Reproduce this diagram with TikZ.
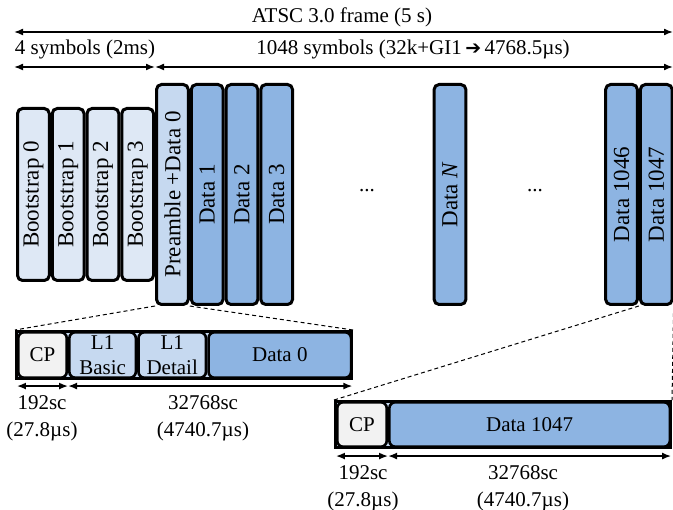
\documentclass[tikz,border=0pt]{standalone}
\usepackage{fontspec}
\setmainfont{Liberation Serif}
\usetikzlibrary{positioning, arrows.meta}
\usepackage{xcolor}
\definecolor{bootfill}{HTML}{DEE8F5}
\definecolor{prefill}{HTML}{C6D9F0}
\definecolor{datafill}{HTML}{8DB4E2}
\definecolor{cpfill}{HTML}{F2F2F2}

\begin{document}
\begin{tikzpicture}[
		x=1pt, y=-1pt,
		font=\fontsize{21}{27}\selectfont,
		symbox/.style={
			draw,
			line width=3pt,
			rounded corners=5pt,
			inner sep=0pt,
			minimum width=31.75pt,
			font=\fontsize{23}{26}\selectfont
		},
		bootbox/.style={symbox, fill=bootfill, minimum height=172pt},
		databox/.style={symbox, fill=datafill, minimum height=220pt},
		stripbox/.style={
			draw,
			line width=3pt,
			fill=prefill,
			inner sep=0pt
		},
		cell/.style={
			draw,
			line width=2.6pt,
			rounded corners=6pt,
			inner sep=0pt,
			align=center,
			font=\fontsize{21}{25}\selectfont
		},
		dimarrow/.style={
			line width=1.6pt,
			{Latex[length=9pt,width=7pt]}-{Latex[length=9pt,width=7pt]}
		},
		zoomline/.style={
			line width=1pt,
			dash pattern=on 4pt off 3pt
		},
		lbl/.style={align=center, inner sep=0pt}
		]
		\useasboundingbox (0,0) rectangle (673,510);
		
		% --- Bootstrap symbols ---
		\node[bootbox] (boot0) at (33.4,194.5) {\rotatebox{90}{Bootstrap 0}};
		\node[bootbox, right=0pt of boot0] (boot1) {\rotatebox{90}{Bootstrap 1}};
		\node[bootbox, right=0pt of boot1] (boot2) {\rotatebox{90}{Bootstrap 2}};
		\node[bootbox, right=0pt of boot2] (boot3) {\rotatebox{90}{Bootstrap 3}};
		
		% --- Preamble and data symbols ---
		\node[databox, fill=prefill, right=0pt of boot3] (pre) {\rotatebox{90}{Preamble +Data 0}};
		\node[databox, right=0pt of pre] (data1) {\rotatebox{90}{Data 1}};
		\node[databox, right=0pt of data1] (data2) {\rotatebox{90}{Data 2}};
		\node[databox, right=0pt of data2] (data3) {\rotatebox{90}{Data 3}};
		
		\node[inner sep=0pt] (gap1) at (367,191) {...};
		\node[databox] (dataN) at (450,194.5) {\rotatebox{90}{Data \textit{N}}};
		\node[inner sep=0pt] (gap2) at (535,191) {...};
		
		\node[databox] (data1046) at (621.5,194.5) {\rotatebox{90}{Data 1046}};
		\node[databox, right=0pt of data1046] (data1047) {\rotatebox{90}{Data 1047}};
		
		% --- Frame lengths ---
		\coordinate (frameL) at (14,32);
		\coordinate (frameR) at (673,32);
		\coordinate (bootL) at (14,67);
		\coordinate (bootR) at (155,67);
		\coordinate (dataR) at (673,67);
		\draw[dimarrow] (frameL) -- (frameR);
		\draw[dimarrow] (bootL) -- (bootR);
		\draw[dimarrow] (bootR) -- (dataR);
		\node[lbl] (framelbl) at (342,17) {ATSC 3.0 frame (5 s)};
		\node[lbl] (bootlbl) at (85,49) {4 symbols (2ms)};
		\node[lbl] (datalbl) at (413,49) {1048 symbols (32k+GI1\,{\fontspec{DejaVu Sans}\fontsize{19}{19}\selectfont ➔}\,4768.5µs)};
		
		% --- Preamble symbol, detail ---
		\node[stripbox, minimum width=335pt, minimum height=47pt] (sym0) at (184,355) {};
		\node[cell, fill=cpfill, minimum width=48.5pt, minimum height=45.5pt] (cp0) at (42.5,355) {CP};
		\node[cell, fill=prefill, minimum width=66.5pt, minimum height=45.5pt, right=0pt of cp0] (l1b) {L1\\Basic};
		\node[cell, fill=prefill, minimum width=67.5pt, minimum height=45.5pt, right=0pt of l1b] (l1d) {L1\\Detail};
		\node[cell, fill=datafill, minimum width=142.5pt, minimum height=45.5pt, right=0pt of l1d] (d0) {Data 0};
		
		\draw[dimarrow] ([yshift=-7pt]cp0.south west) -- ([yshift=-7pt]cp0.south east);
		\draw[dimarrow] ([yshift=-7pt]cp0.south east) -- ([yshift=-7pt]d0.south east);
		\node[lbl] (cplen0) at (42,418.5) {192sc\\(27.8µs)};
		\node[lbl] (datalen0) at (203,418.5) {32768sc\\(4740.7µs)};
		
		% --- Last data symbol, detail ---
		\node[stripbox, minimum width=335pt, minimum height=46pt] (sym1047) at (503,424.5) {};
		\node[cell, fill=cpfill, minimum width=49.5pt, minimum height=44.5pt] (cp1) at (362,424.5) {CP};
		\node[cell, fill=datafill, minimum width=280.5pt, minimum height=44.5pt, right=0pt of cp1] (d1047) {Data 1047};
		
		\draw[dimarrow] ([yshift=-8pt]cp1.south west) -- ([yshift=-8pt]cp1.south east);
		\draw[dimarrow] ([yshift=-8pt]cp1.south east) -- ([yshift=-8pt]d1047.south east);
		\node[lbl] (cplen1) at (363,488.5) {192sc\\(27.8µs)};
		\node[lbl] (datalen1) at (523,488.5) {32768sc\\(4740.7µs)};
		
		% --- Zoom lines ---
		\draw[zoomline] (pre.south west) -- (sym0.north west);
		\draw[zoomline] (pre.south east) -- (sym0.north east);
		\draw[zoomline] (data1047.south west) -- (sym1047.north west);
		\draw[zoomline] (data1047.south east) -- (sym1047.north east);
		
	\end{tikzpicture}
\end{document}
